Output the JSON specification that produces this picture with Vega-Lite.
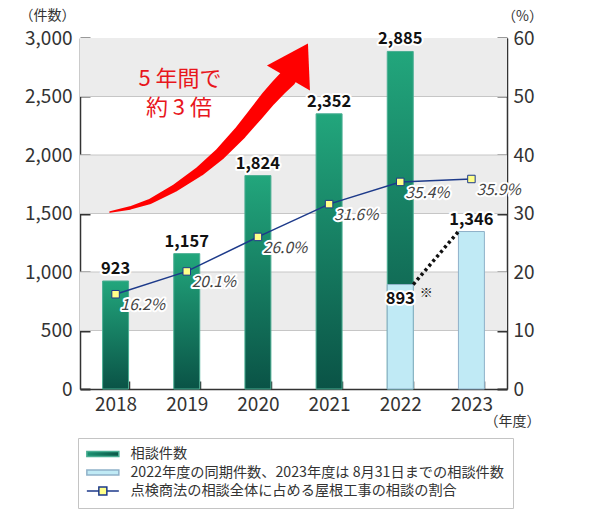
{
  "$schema": "https://vega.github.io/schema/vega-lite/v6.json",
  "width": 427,
  "height": 351,
  "autosize": {"type": "none"},
  "padding": {"left": 80, "top": 38, "right": 93, "bottom": 128},
  "background": "white",
  "config": {
    "font": "Noto Sans CJK JP",
    "view": {"stroke": null},
    "axis": {"labelFont": "Noto Sans CJK JP", "titleFont": "Noto Sans CJK JP", "labelColor": "#333", "titleColor": "#333", "domainColor": "#333", "tickColor": "#333", "zindex": 1},
    "legend": {"labelFont": "Noto Sans CJK JP"}
  },
  "datasets": {
    "bands": [{"value": 500, "value2": 1000}, {"value": 1500, "value2": 2000}, {"value": 2500, "value2": 3000}],
    "grid": [{"value": 500}, {"value": 1000}, {"value": 1500}, {"value": 2000}, {"value": 2500}],
    "counts": [
      {"year": "2018", "value": 923, "series": "相談件数"},
      {"year": "2019", "value": 1157, "series": "相談件数"},
      {"year": "2020", "value": 1824, "series": "相談件数"},
      {"year": "2021", "value": 2352, "series": "相談件数"},
      {"year": "2022", "value": 2885, "series": "相談件数"}
    ],
    "partial": [
      {"year": "2022", "value": 893, "series": "2022年度の同期件数、2023年度は 8月31日までの相談件数"},
      {"year": "2023", "value": 1346, "series": "2022年度の同期件数、2023年度は 8月31日までの相談件数"}
    ],
    "ratio": [
      {"year": "2018", "ratio": 16.2, "label": "16.2%"},
      {"year": "2019", "ratio": 20.1, "label": "20.1%"},
      {"year": "2020", "ratio": 26.0, "label": "26.0%"},
      {"year": "2021", "ratio": 31.6, "label": "31.6%"},
      {"year": "2022", "ratio": 35.4, "label": "35.4%"},
      {"year": "2023", "ratio": 35.9, "label": "35.9%"}
    ],
    "connector": [{"year": "2022", "year2": "2023", "value": 893, "value2": 1346}],
    "note": [{"year": "2022", "value": 893, "label": "※"}],
    "arrow": [
      {"ax": 0.4215, "y": 1513},
      {"ax": 0.7025, "y": 1547},
      {"ax": 0.9836, "y": 1603},
      {"ax": 1.3348, "y": 1718},
      {"ax": 1.6861, "y": 1863},
      {"ax": 1.9671, "y": 2009},
      {"ax": 2.2481, "y": 2188},
      {"ax": 2.4589, "y": 2342},
      {"ax": 2.6416, "y": 2479},
      {"ax": 2.7961, "y": 2581},
      {"ax": 2.9226, "y": 2658}
    ],
    "arrowHead": [{"ax": 2.929, "y": 2658}],
    "arrowText": [
      {"ax": 1.405, "y": 2650, "label": "5 年間で"},
      {"ax": 1.39, "y": 2400, "label": "約 3 倍"}
    ]
  },
  "layer": [
    {
      "resolve": {"scale": {"y": "independent"}},
      "layer": [
        {
          "layer": [
            {
              "data": {"name": "bands"},
              "mark": {"type": "rect", "fill": "#ececec"},
              "encoding": {
                "x": {"value": 0},
                "x2": {"value": "width"},
                "y": {"field": "value", "type": "quantitative", "title": "（件数）",
                  "scale": {"domain": [0, 3000], "nice": false},
                  "axis": {"orient": "left", "values": [0, 500, 1000, 1500, 2000, 2500, 3000], "format": ",d", "labelFontSize": 19, "labelPadding": 18, "tickSize": -10, "tickWidth": 2, "domainWidth": 1.5, "grid": false, "title": "（件数）", "titleAngle": 0, "titleX": -33, "titleY": -23, "titleAlign": "center", "titleBaseline": "middle", "titleFontSize": 14, "titleFontWeight": "normal"}},
                "y2": {"field": "value2"}
              }
            },
            {
              "data": {"name": "grid"},
              "mark": {"type": "rule", "stroke": "#c6c6c6", "strokeWidth": 1},
              "encoding": {"y": {"field": "value", "type": "quantitative", "title": "（件数）"}}
            },
            {
              "data": {"name": "counts"},
              "mark": {"type": "bar", "strokeWidth": 1, "fill": {"gradient": "linear", "x1": 0, "y1": 0, "x2": 0, "y2": 1, "stops": [{"offset": 0, "color": "#22a67c"}, {"offset": 1, "color": "#0a5346"}]}},
              "encoding": {
                "x": {"field": "year", "type": "ordinal", "title": "（年度）",
                  "scale": {"domain": ["2018", "2019", "2020", "2021", "2022", "2023"], "paddingInner": 0.635, "paddingOuter": 0.3175},
                  "axis": {"orient": "bottom", "labelAngle": 0, "labelFontSize": 19, "labelPadding": 14, "tickSize": -8, "tickWidth": 1.5, "tickBand": "extent", "domainWidth": 1.5, "title": "（年度）", "titleX": 432, "titleY": 32, "titleAlign": "center", "titleBaseline": "middle", "titleFontSize": 14, "titleFontWeight": "normal"}},
                "y": {"field": "value", "type": "quantitative", "title": "（件数）"},
                "stroke": {"field": "series", "type": "nominal",
                  "scale": {"domain": ["相談件数", "2022年度の同期件数、2023年度は 8月31日までの相談件数", "点検商法の相談全体に占める屋根工事の相談の割合"], "range": ["#4aae93", "#8fb1c9", "#1d3a8a"]},
                  "legend": {
                    "title": null, "orient": "none", "legendX": -2, "legendY": 400, "direction": "vertical",
                    "labelFontSize": 14.2, "labelColor": "#333", "labelLimit": 600,
                    "symbolSize": 100, "symbolOffset": 8.75, "labelOffset": 20.5, "rowPadding": 3.5,
                    "padding": 9, "fillColor": "#ffffff", "strokeColor": "#c4c4c4",
                    "encode": {
                      "symbols": {
                        "update": {
                          "shape": {"signal": "datum.value === '点検商法の相談全体に占める屋根工事の相談の割合' ? 'M-3.2,0H-0.8M0.8,0H3.2M-0.8,-0.8H0.8V0.8H-0.8Z' : 'M-3.2,-0.5H3.2V0.5H-3.2Z'"},
                          "fill": {"signal": "datum.value === '相談件数' ? {gradient: 'linear', x1: 0, y1: 0, x2: 1, y2: 0, stops: [{offset: 0, color: '#1b9272'}, {offset: 1, color: '#0a5646'}]} : datum.value === '点検商法の相談全体に占める屋根工事の相談の割合' ? '#ffff8a' : '#c0eaf5'"},
                          "stroke": {"signal": "datum.value === '相談件数' ? '#127862' : datum.value === '点検商法の相談全体に占める屋根工事の相談の割合' ? '#1d3a8a' : '#8fb1c9'"},
                          "strokeWidth": {"value": 1.5},
                          "size": {"value": 100},
                          "opacity": {"value": 1}
                        }
                      }
                    }
                  }
                }
              }
            },
            {
              "data": {"name": "partial"},
              "mark": {"type": "bar", "fill": "#c0eaf5", "strokeWidth": 1},
              "encoding": {
                "x": {"field": "year", "type": "ordinal", "title": "（年度）"},
                "y": {"field": "value", "type": "quantitative", "title": "（件数）"},
                "stroke": {"field": "series", "type": "nominal",
                  "legend": {
                    "title": null, "orient": "none", "legendX": -2, "legendY": 400, "direction": "vertical",
                    "labelFontSize": 14.2, "labelColor": "#333", "labelLimit": 600,
                    "symbolSize": 100, "symbolOffset": 8.75, "labelOffset": 20.5, "rowPadding": 3.5,
                    "padding": 9, "fillColor": "#ffffff", "strokeColor": "#c4c4c4",
                    "encode": {
                      "symbols": {
                        "update": {
                          "shape": {"signal": "datum.value === '点検商法の相談全体に占める屋根工事の相談の割合' ? 'M-3.2,0H-0.8M0.8,0H3.2M-0.8,-0.8H0.8V0.8H-0.8Z' : 'M-3.2,-0.5H3.2V0.5H-3.2Z'"},
                          "fill": {"signal": "datum.value === '相談件数' ? {gradient: 'linear', x1: 0, y1: 0, x2: 1, y2: 0, stops: [{offset: 0, color: '#1b9272'}, {offset: 1, color: '#0a5646'}]} : datum.value === '点検商法の相談全体に占める屋根工事の相談の割合' ? '#ffff8a' : '#c0eaf5'"},
                          "stroke": {"signal": "datum.value === '相談件数' ? '#127862' : datum.value === '点検商法の相談全体に占める屋根工事の相談の割合' ? '#1d3a8a' : '#8fb1c9'"},
                          "strokeWidth": {"value": 1.5},
                          "size": {"value": 100},
                          "opacity": {"value": 1}
                        }
                      }
                    }
                  }
                }
              }
            },
            {
              "data": {"name": "connector"},
              "mark": {"type": "rule", "stroke": "#111111", "strokeWidth": 3.5, "strokeDash": [3, 3], "xOffset": 13, "x2Offset": -13},
              "encoding": {
                "x": {"field": "year", "type": "ordinal", "title": "（年度）"},
                "x2": {"field": "year2"},
                "y": {"field": "value", "type": "quantitative", "title": "（件数）"},
                "y2": {"field": "value2"}
              }
            },
            {
              "data": {"name": "counts"},
              "mark": {"type": "text", "fontSize": 16.5, "fontWeight": "bold", "baseline": "bottom", "dy": -4, "stroke": "white", "strokeWidth": 4, "strokeJoin": "round", "fill": "white"},
              "encoding": {
                "x": {"field": "year", "type": "ordinal", "title": "（年度）"},
                "y": {"field": "value", "type": "quantitative", "title": "（件数）"},
                "text": {"field": "value", "type": "quantitative", "format": ",d"}
              }
            },
            {
              "data": {"name": "counts"},
              "mark": {"type": "text", "fontSize": 16.5, "fontWeight": "bold", "baseline": "bottom", "dy": -4, "fill": "#111111"},
              "encoding": {
                "x": {"field": "year", "type": "ordinal", "title": "（年度）"},
                "y": {"field": "value", "type": "quantitative", "title": "（件数）"},
                "text": {"field": "value", "type": "quantitative", "format": ",d"}
              }
            },
            {
              "data": {"name": "partial"},
              "transform": [{"filter": "datum.year == '2023'"}],
              "layer": [
                {"mark": {"type": "text", "fontSize": 16.5, "fontWeight": "bold", "baseline": "bottom", "dy": -4, "stroke": "white", "strokeWidth": 4, "strokeJoin": "round", "fill": "white"}},
                {"mark": {"type": "text", "fontSize": 16.5, "fontWeight": "bold", "baseline": "bottom", "dy": -4, "fill": "#111111"}}
              ],
              "encoding": {
                "x": {"field": "year", "type": "ordinal", "title": "（年度）"},
                "y": {"field": "value", "type": "quantitative", "title": "（件数）"},
                "text": {"field": "value", "type": "quantitative", "format": ",d"}
              }
            },
            {
              "data": {"name": "partial"},
              "transform": [{"filter": "datum.year == '2022'"}],
              "layer": [
                {"mark": {"type": "text", "fontSize": 16.5, "fontWeight": "bold", "baseline": "top", "dy": 6, "stroke": "white", "strokeWidth": 4, "strokeJoin": "round", "fill": "white"}},
                {"mark": {"type": "text", "fontSize": 16.5, "fontWeight": "bold", "baseline": "top", "dy": 6, "fill": "#111111"}}
              ],
              "encoding": {
                "x": {"field": "year", "type": "ordinal", "title": "（年度）"},
                "y": {"field": "value", "type": "quantitative", "title": "（件数）"},
                "text": {"field": "value", "type": "quantitative", "format": ",d"}
              }
            },
            {
              "data": {"name": "note"},
              "mark": {"type": "text", "fontSize": 13, "fill": "#222222", "xOffset": 26, "dy": 8, "baseline": "middle"},
              "encoding": {
                "x": {"field": "year", "type": "ordinal", "title": "（年度）"},
                "y": {"field": "value", "type": "quantitative", "title": "（件数）"},
                "text": {"field": "label"}
              }
            }
          ]
        },
        {
          "data": {"name": "ratio"},
          "encoding": {
            "x": {"field": "year", "type": "ordinal", "title": "（年度）"},
            "y": {"field": "ratio", "type": "quantitative", "title": "（%）",
              "scale": {"domain": [0, 60], "nice": false},
              "axis": {"orient": "right", "values": [0, 10, 20, 30, 40, 50, 60], "labelFontSize": 19, "labelPadding": 16, "tickSize": -10, "tickWidth": 2, "domainWidth": 1.5, "grid": false, "title": "（%）", "titleAngle": 0, "titleX": 15, "titleY": -22, "titleAlign": "center", "titleBaseline": "middle", "titleFontSize": 14, "titleFontWeight": "normal"}}
          },
          "layer": [
            {"mark": {"type": "line", "strokeWidth": 1.5}, "encoding": {"stroke": {"datum": "点検商法の相談全体に占める屋根工事の相談の割合", "type": "nominal",
                  "legend": {
                    "title": null, "orient": "none", "legendX": -2, "legendY": 400, "direction": "vertical",
                    "labelFontSize": 14.2, "labelColor": "#333", "labelLimit": 600,
                    "symbolSize": 100, "symbolOffset": 8.75, "labelOffset": 20.5, "rowPadding": 3.5,
                    "padding": 9, "fillColor": "#ffffff", "strokeColor": "#c4c4c4",
                    "encode": {
                      "symbols": {
                        "update": {
                          "shape": {"signal": "datum.value === '点検商法の相談全体に占める屋根工事の相談の割合' ? 'M-3.2,0H-0.8M0.8,0H3.2M-0.8,-0.8H0.8V0.8H-0.8Z' : 'M-3.2,-0.5H3.2V0.5H-3.2Z'"},
                          "fill": {"signal": "datum.value === '相談件数' ? {gradient: 'linear', x1: 0, y1: 0, x2: 1, y2: 0, stops: [{offset: 0, color: '#1b9272'}, {offset: 1, color: '#0a5646'}]} : datum.value === '点検商法の相談全体に占める屋根工事の相談の割合' ? '#ffff8a' : '#c0eaf5'"},
                          "stroke": {"signal": "datum.value === '相談件数' ? '#127862' : datum.value === '点検商法の相談全体に占める屋根工事の相談の割合' ? '#1d3a8a' : '#8fb1c9'"},
                          "strokeWidth": {"value": 1.5},
                          "size": {"value": 100},
                          "opacity": {"value": 1}
                        }
                      }
                    }
                  }}}},
            {"mark": {"type": "point", "shape": "square", "filled": true, "fill": "#ffff8a", "stroke": "#1d3a8a", "strokeWidth": 1, "size": 56, "opacity": 1}},
            {"mark": {"type": "text", "fontSize": 15.5, "fontStyle": "italic", "align": "left", "baseline": "middle", "dx": 5, "dy": 11, "stroke": "white", "strokeWidth": 4, "strokeJoin": "round", "fill": "white"}, "encoding": {"text": {"field": "label"}}},
            {"mark": {"type": "text", "fontSize": 15.5, "fontStyle": "italic", "align": "left", "baseline": "middle", "dx": 5, "dy": 11, "fill": "#444444"}, "encoding": {"text": {"field": "label"}}}
          ]
        }
      ]
    },
    {
      "encoding": {
        "x": {"field": "ax", "type": "quantitative", "scale": {"domain": [0, 6], "nice": false, "zero": false}, "axis": null},
        "y": {"field": "y", "type": "quantitative", "scale": {"domain": [0, 3000], "nice": false}, "axis": null}
      },
      "layer": [
        {
          "data": {"name": "arrow"},
          "mark": {"type": "trail", "color": "#ff0000"},
          "encoding": {
            "size": {"field": "ax", "type": "quantitative", "scale": {"domain": [0.42, 2.93], "range": [1.5, 18], "zero": false}, "legend": null},
            "order": {"field": "ax"}
          }
        },
        {
          "data": {"name": "arrowHead"},
          "mark": {"type": "point", "shape": "M0.975,-1.725L-1.075,-0.625L1.075,0.625Z", "filled": true, "color": "#ff0000", "size": 1600, "opacity": 1, "strokeWidth": 0}
        },
        {
          "data": {"name": "arrowText"},
          "mark": {"type": "text", "fontSize": 22, "fill": "#e8161c", "align": "center", "baseline": "middle"},
          "encoding": {"text": {"field": "label"}}
        }
      ]
    }
  ],
  "resolve": {"scale": {"x": "independent", "y": "independent"}}
}
